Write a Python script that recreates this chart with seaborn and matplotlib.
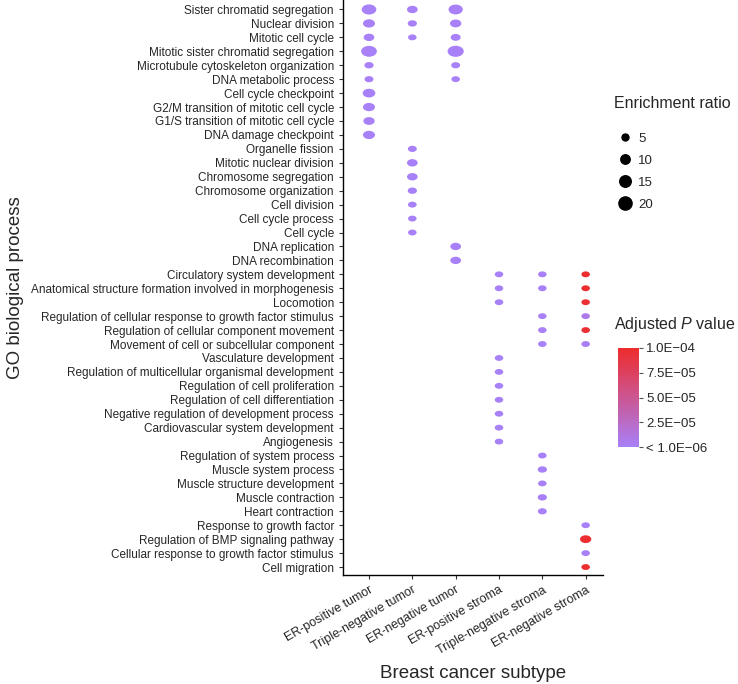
import numpy as np
import pandas as pd
import seaborn as sns
import matplotlib.pyplot as plt
from matplotlib.colors import LinearSegmentedColormap, Normalize
from matplotlib.cm import ScalarMappable
from matplotlib.lines import Line2D
from matplotlib.path import Path
from matplotlib.transforms import Affine2D

# GO terms, top to bottom
processes = [
    "Sister chromatid segregation",
    "Nuclear division",
    "Mitotic cell cycle",
    "Mitotic sister chromatid segregation",
    "Microtubule cytoskeleton organization",
    "DNA metabolic process",
    "Cell cycle checkpoint",
    "G2/M transition of mitotic cell cycle",
    "G1/S transition of mitotic cell cycle",
    "DNA damage checkpoint",
    "Organelle fission",
    "Mitotic nuclear division",
    "Chromosome segregation",
    "Chromosome organization",
    "Cell division",
    "Cell cycle process",
    "Cell cycle",
    "DNA replication",
    "DNA recombination",
    "Circulatory system development",
    "Anatomical structure formation involved in morphogenesis",
    "Locomotion",
    "Regulation of cellular response to growth factor stimulus",
    "Regulation of cellular component movement",
    "Movement of cell or subcellular component",
    "Vasculature development",
    "Regulation of multicellular organismal development",
    "Regulation of cell proliferation",
    "Regulation of cell differentiation",
    "Negative regulation of development process",
    "Cardiovascular system development",
    "Angiogenesis",
    "Regulation of system process",
    "Muscle system process",
    "Muscle structure development",
    "Muscle contraction",
    "Heart contraction",
    "Response to growth factor",
    "Regulation of BMP signaling pathway",
    "Cellular response to growth factor stimulus",
    "Cell migration",
]

subtypes = ["ER-positive tumor", "Triple-negative tumor", "ER-negative tumor",
            "ER-positive stroma", "Triple-negative stroma", "ER-negative stroma"]

# (term, enrichment ratio, adjusted P value)
er_pos_tumor = [
    ("Sister chromatid segregation", 16.3, 1e-7),
    ("Nuclear division", 10.7, 1e-7),
    ("Mitotic cell cycle", 8.3, 1e-7),
    ("Mitotic sister chromatid segregation", 19.0, 1e-7),
    ("Microtubule cytoskeleton organization", 6.0, 1e-7),
    ("DNA metabolic process", 5.6, 1e-7),
    ("Cell cycle checkpoint", 12.0, 1e-7),
    ("G2/M transition of mitotic cell cycle", 10.7, 1e-7),
    ("G1/S transition of mitotic cell cycle", 9.4, 1e-7),
    ("DNA damage checkpoint", 10.7, 1e-7),
]
tn_tumor = [
    ("Sister chromatid segregation", 8.3, 1e-7),
    ("Nuclear division", 6.0, 1e-7),
    ("Mitotic cell cycle", 4.3, 1e-7),
    ("Organelle fission", 5.6, 1e-7),
    ("Mitotic nuclear division", 8.3, 1e-7),
    ("Chromosome segregation", 8.3, 1e-7),
    ("Chromosome organization", 6.0, 1e-7),
    ("Cell division", 5.2, 1e-7),
    ("Cell cycle process", 3.6, 1e-7),
    ("Cell cycle", 3.4, 1e-7),
]
er_neg_tumor = [
    ("Sister chromatid segregation", 15.5, 1e-7),
    ("Nuclear division", 9.5, 1e-7),
    ("Mitotic cell cycle", 7.1, 1e-7),
    ("Mitotic sister chromatid segregation", 20.5, 1e-7),
    ("Microtubule cytoskeleton organization", 5.6, 1e-7),
    ("DNA metabolic process", 4.3, 1e-7),
    ("DNA replication", 8.3, 1e-7),
    ("DNA recombination", 8.3, 1e-7),
]
er_pos_stroma = [
    ("Circulatory system development", 2.1, 1e-7),
    ("Anatomical structure formation involved in morphogenesis", 2.1, 1e-7),
    ("Locomotion", 1.8, 1e-7),
    ("Vasculature development", 3.4, 1e-7),
    ("Regulation of multicellular organismal development", 2.1, 1e-7),
    ("Regulation of cell proliferation", 2.1, 1e-7),
    ("Regulation of cell differentiation", 2.1, 1e-7),
    ("Negative regulation of development process", 2.8, 1e-7),
    ("Cardiovascular system development", 2.8, 1e-7),
    ("Angiogenesis", 3.4, 1e-7),
]
tn_stroma = [
    ("Circulatory system development", 2.1, 1e-7),
    ("Anatomical structure formation involved in morphogenesis", 2.1, 1e-7),
    ("Regulation of cellular response to growth factor stimulus", 4.6, 1e-7),
    ("Regulation of cellular component movement", 2.1, 1e-7),
    ("Movement of cell or subcellular component", 1.7, 1e-7),
    ("Regulation of system process", 4.3, 1e-7),
    ("Muscle system process", 6.0, 1e-7),
    ("Muscle structure development", 3.9, 1e-7),
    ("Muscle contraction", 6.0, 1e-7),
    ("Heart contraction", 5.6, 1e-7),
]
er_neg_stroma = [
    ("Circulatory system development", 2.1, 9.8e-5),
    ("Anatomical structure formation involved in morphogenesis", 2.1, 9.8e-5),
    ("Locomotion", 1.8, 9.6e-5),
    ("Regulation of cellular response to growth factor stimulus", 4.6, 8e-6),
    ("Regulation of cellular component movement", 2.4, 9.6e-5),
    ("Movement of cell or subcellular component", 1.7, 2e-6),
    ("Response to growth factor", 3.1, 1e-7),
    ("Regulation of BMP signaling pathway", 9.4, 9.8e-5),
    ("Cellular response to growth factor stimulus", 2.8, 1e-7),
    ("Cell migration", 1.8, 9.8e-5),
]

groups = [er_pos_tumor, tn_tumor, er_neg_tumor, er_pos_stroma, tn_stroma, er_neg_stroma]
rows = []
for name, grp in zip(subtypes, groups):
    for term, ratio, padj in grp:
        rows.append({"subtype": name, "process": term, "ratio": ratio, "padj": padj})
df = pd.DataFrame(rows)
df["subtype"] = pd.Categorical(df["subtype"], categories=subtypes, ordered=True)
df["process"] = pd.Categorical(df["process"], categories=processes, ordered=True)

sns.set_style("ticks")
plt.rcParams["font.family"] = ["Liberation Sans", "DejaVu Sans"]
plt.rcParams["mathtext.fontset"] = "custom"
plt.rcParams["mathtext.rm"] = "Liberation Sans"
plt.rcParams["mathtext.it"] = "Liberation Sans:italic"

cmap = LinearSegmentedColormap.from_list("pv", ["#a880f8", "#ee2c2c"])
norm = Normalize(vmin=0, vmax=1e-4)

# dots in the original are slightly squashed vertically
ellipse = Path.unit_circle().transformed(Affine2D().scale(1.0, 1 / 1.45))

fig = plt.figure(figsize=(7.38, 6.84), dpi=100)
ax = fig.add_axes([343 / 738, 1 - 575 / 684, 260 / 738, 575 / 684])

sns.scatterplot(data=df, x="subtype", y="process", size="ratio", hue="padj",
                sizes=(37.8, 135), size_norm=(5, 20), palette=cmap, hue_norm=norm,
                marker=ellipse, linewidth=0, legend=False, ax=ax)

ax.set_xlim(-0.6, 5.4)
ax.set_ylim(len(processes) - 0.43, -0.68)
sns.despine(ax=ax)
for s in ["left", "bottom"]:
    ax.spines[s].set_color("black")
    ax.spines[s].set_linewidth(1)
ax.tick_params(axis="both", length=3, width=0.8, color="#333333", pad=3.5)
ax.tick_params(axis="y", labelsize=8.5)
ax.tick_params(axis="x", labelsize=9)
plt.setp(ax.get_xticklabels(), rotation=30, ha="right", rotation_mode="anchor")
ax.set_xlabel("Breast cancer subtype", fontsize=13.5, labelpad=6)
ax.set_ylabel("GO biological process", fontsize=13.5, labelpad=5)

# size legend
fig.text(614 / 738, 1 - 103 / 684, "Enrichment ratio", fontsize=11.5, va="center")
leg_vals = [5, 10, 15, 20]
leg_ms = [5.0, 6.8, 8.3, 9.5]
handles = [Line2D([], [], marker="o", linestyle="", color="black", markersize=m) for m in leg_ms]
leg = fig.legend(handles, [str(v) for v in leg_vals],
                 loc="upper left", bbox_to_anchor=(613 / 738, 1 - 127 / 684),
                 frameon=False, fontsize=9.5, borderaxespad=0, borderpad=0.4,
                 labelspacing=0.75, handlelength=1.0, handletextpad=0.5)

# colour bar
fig.text(614 / 738, 1 - 325 / 684, "Adjusted $P$ value", fontsize=11.5, va="center")
cax = fig.add_axes([618 / 738, 1 - 447 / 684, 21 / 738, 99 / 684])
cb = fig.colorbar(ScalarMappable(norm=norm, cmap=cmap), cax=cax)
cb.outline.set_visible(False)
cb.set_ticks([0, 2.5e-5, 5e-5, 7.5e-5, 1e-4])
cb.set_ticklabels(["< 1.0E\u221206", "2.5E\u221205", "5.0E\u221205", "7.5E\u221205", "1.0E\u221204"])
cax.tick_params(length=3, width=0.8, color="#555555", labelsize=9.5, pad=2)

fig.savefig("out.png", dpi=100)
